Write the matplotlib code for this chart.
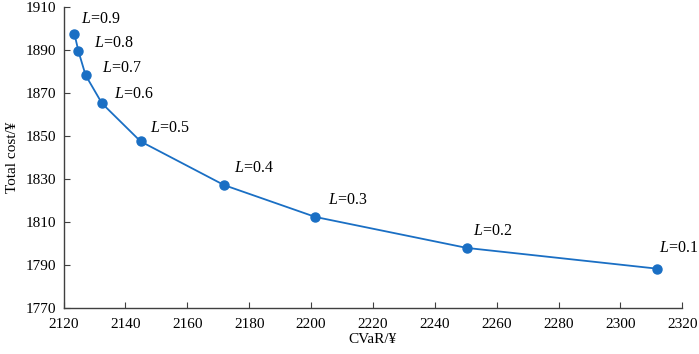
import numpy as np
import matplotlib.pyplot as plt

plt.rcParams['font.family'] = ['Liberation Serif', 'DejaVu Serif']
plt.rcParams['mathtext.fontset'] = 'custom'
plt.rcParams['mathtext.it'] = 'Liberation Serif:italic'
plt.rcParams['mathtext.rm'] = 'Liberation Serif'

# datos
L_vals = [0.9, 0.8, 0.7, 0.6, 0.5, 0.4, 0.3, 0.2, 0.1]
cvar = [2123.5, 2124.8, 2127.1, 2132.4, 2144.9, 2171.9, 2201.4, 2250.4, 2311.7]
total_cost = [1897.4, 1889.3, 1878.2, 1865.1, 1847.4, 1827.1, 1812.3, 1797.9, 1788.3]

# desplazamiento de etiquetas (puntos)
offsets = [(5, 11), (11, 6), (12, 5), (9, 7), (7, 10), (7, 12), (9, 12), (4, 12), (2, 15)]

x_ticks = np.arange(2120, 2321, 20)
y_ticks = np.arange(1770, 1911, 20)

color = '#1a6fc4'
axis_color = '#404040'

fig, ax = plt.subplots(figsize=(6.99, 3.54), dpi=100)
fig.subplots_adjust(left=0.091, right=0.976, top=0.981, bottom=0.13)

ax.plot(cvar, total_cost, color=color, lw=1.3, marker='o', ms=6.5, zorder=3)

for L, x, y, off in zip(L_vals, cvar, total_cost, offsets):
    ax.annotate(r'$L$=' + f'{L}', (x, y), xytext=off, textcoords='offset points',
                fontsize=11.5, ha='left', va='center')

ax.set_xlim(2120, 2320)
ax.set_ylim(1770, 1910)
ax.set_xticks(x_ticks)
ax.set_yticks(y_ticks)
ax.set_xlabel('CVaR/¥', fontsize=11, labelpad=2)
ax.set_ylabel('Total cost/¥', fontsize=11, labelpad=5)

for s in ['top', 'right']:
    ax.spines[s].set_visible(False)
for s in ['left', 'bottom']:
    ax.spines[s].set_color(axis_color)
    ax.spines[s].set_linewidth(1.0)
ax.tick_params(direction='in', length=4, color=axis_color, labelsize=11)
ax.tick_params(axis='x', pad=7)
ax.tick_params(axis='y', pad=5)

plt.savefig('out.png', dpi=100)
